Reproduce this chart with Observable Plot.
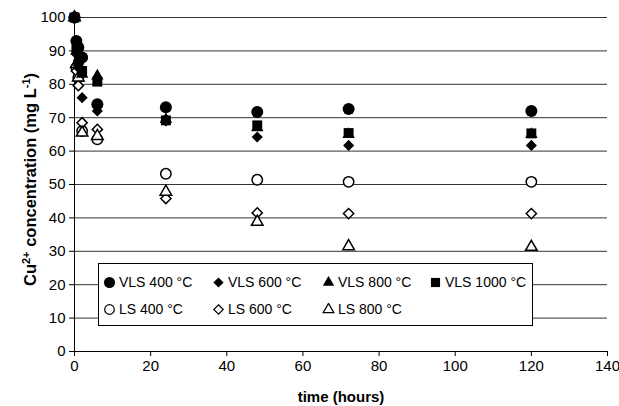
<!DOCTYPE html>
<html><head><meta charset="utf-8">
<script src="https://cdn.jsdelivr.net/npm/d3@7"></script>
<script src="https://cdn.jsdelivr.net/npm/@observablehq/plot@0.6"></script>
<style>
body{margin:0;background:#fff;font-family:"Liberation Sans",Arial,sans-serif;}
#wrap{position:relative;width:619px;height:406px;overflow:hidden;}
#legend{position:absolute;left:98px;top:263px;width:435px;height:63px;border:1px solid #000;background:#fff;box-sizing:border-box;font-size:14px;color:#000;}
.item{position:absolute;display:flex;align-items:center;white-space:nowrap;height:16px;line-height:16px;}
.item svg{display:block;margin-right:3px;}
svg g[aria-label="y-axis label"] text, svg g[aria-label="x-axis label"] text{font-weight:bold;}
svg g[aria-label="y-axis label"] text{font-size:16.5px;}
</style>
</head><body>
<div id="wrap"><div id="chart"></div><div id="legend"></div></div>
<script>
// ---- data ----
const times = [0, 0.5, 1, 2, 6, 24, 48, 72, 120];
const seriesNames = ["VLS 400 °C", "VLS 600 °C", "VLS 800 °C", "VLS 1000 °C", "LS 400 °C", "LS 600 °C", "LS 800 °C"];
const vls400  = [100, 93, 91, 88, 74, 73.1, 71.7, 72.6, 72.0];
const vls600  = [100, 89, 85, 76, 72, 69.0, 64.2, 61.7, 61.7];
const vls800  = [100, 90, 87, 83, 82.5, 69.5, 67.0, 65.0, 65.0];
const vls1000 = [100, 91, 86, 84, 80.8, 69.2, 67.7, 65.4, 65.3];
const ls400   = [100, 85, 82, 66, 63.5, 53.2, 51.4, 50.8, 50.8];
const ls600   = [100, 84, 79.6, 68.5, 66.5, 45.8, 41.5, 41.3, 41.3];
const ls800   = [100, 86, 82, 65.5, 64.5, 47.8, 38.8, 31.5, 31.3];
const xTicks = [0, 20, 40, 60, 80, 100, 120, 140];
const yTicks = [0, 10, 20, 30, 40, 50, 60, 70, 80, 90, 100];

const seriesValues = [vls400, vls600, vls800, vls1000, ls400, ls600, ls800];
const symbols = ["circle", "diamond2", "triangle", "square", "circle", "diamond2", "triangle"];
const filled = [true, true, true, true, false, false, false];
const radius = {circle: [6, 5.2], diamond2: [5, 4.6], triangle: [4.6, 4.3], square: [5.6, 5]};

const rows = [];
seriesNames.forEach((name, i) => times.forEach((t, j) => rows.push({series: name, time: t, value: seriesValues[i][j]})));

// open (LS) series drawn first, filled (VLS) series on top
const drawOrder = [4, 5, 6, 0, 1, 2, 3];
const dotMarks = drawOrder.map(i => Plot.dot(rows.filter(d => d.series === seriesNames[i]), {
  x: "time", y: "value", symbol: () => symbols[i],
  r: filled[i] ? radius[symbols[i]][0] : radius[symbols[i]][1],
  fill: filled[i] ? "#000" : "#fff",
  stroke: filled[i] ? "none" : "#000",
  strokeWidth: 1.5
}));

const chart = Plot.plot({
  width: 619, height: 406,
  marginLeft: 74, marginRight: 12, marginTop: 17, marginBottom: 55,
  style: {fontFamily: "'Liberation Sans', Arial, sans-serif", fontSize: "15px", color: "#000", background: "#fff"},
  x: {domain: [0, 140]},
  y: {domain: [0, 100]},
  symbol: {type: "identity"},
  marks: [
    Plot.gridY(yTicks, {stroke: "#333", strokeOpacity: 1, strokeWidth: 1}),
    Plot.axisX(xTicks, {tickSize: 5, tickPadding: 4, label: "time (hours)", labelAnchor: "center", labelArrow: "none", labelOffset: 50}),
    Plot.axisY(yTicks, {tickSize: 5, tickPadding: 4, label: "Cu2+ concentration (mg L-1)", labelAnchor: "center", labelArrow: "none", labelOffset: 50}),
    Plot.ruleY([0], {stroke: "#000"}),
    Plot.ruleX([0], {stroke: "#000"}),
    ...dotMarks
  ]
});
document.getElementById("chart").appendChild(chart);

// y-axis label with superscripts
const yl = chart.querySelector('g[aria-label="y-axis label"] text');
if (yl) {
  yl.textContent = "";
  yl.setAttribute("x", 5);
  const parts = [["Cu", 0, null], ["2+", -6, "11px"], [" concentration (mg L", 6, null], ["-1", -6, "11px"], [")", 6, null]];
  parts.forEach(([txt, dy, fs]) => {
    const ts = document.createElementNS("http://www.w3.org/2000/svg", "tspan");
    ts.textContent = txt;
    if (dy) ts.setAttribute("dy", dy);
    if (fs) ts.setAttribute("font-size", fs);
    yl.appendChild(ts);
  });
}

// legend
const legend = document.getElementById("legend");
const pos = [[4, 10], [113, 10], [223, 10], [330, 10], [4, 37], [113, 37], [223, 37]];
seriesNames.forEach((name, i) => {
  const item = document.createElement("div");
  item.className = "item";
  item.style.left = pos[i][0] + "px";
  item.style.top = pos[i][1] + "px";
  const s = symbols[i];
  const rr = filled[i] ? radius[s][0] : radius[s][1];
  const path = d3.symbol(d3["symbol" + (s === "diamond2" ? "Diamond2" : s[0].toUpperCase() + s.slice(1))], Math.PI * rr * rr * 0.85)();
  item.innerHTML = `<svg width="13" height="13" viewBox="-6.5 -6.5 13 13"><path d="${path}" fill="${filled[i] ? "#000" : "#fff"}" stroke="${filled[i] ? "none" : "#000"}" stroke-width="1.2"/></svg><span>${name}</span>`;
  legend.appendChild(item);
});
</script>
</body></html>
